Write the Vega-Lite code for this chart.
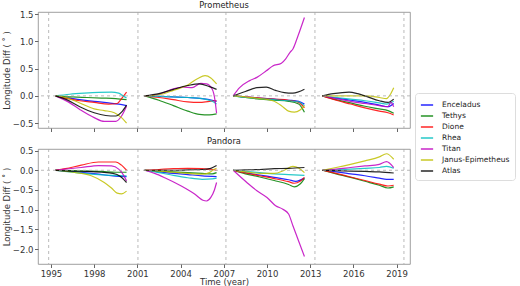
{
"$schema":"https://vega.github.io/schema/vega-lite/v6.json",
"padding":{"left":1,"top":0,"right":0,"bottom":0},
"datasets":{
"b":[{"t":1994.84},{"t":2001.04},{"t":2007.15},{"t":2013.33},{"t":2019.51}],
"z":[{"v":0}],
"d":[
{"p":1,"m":"Enceladus","s":1,"t":1995.3,"v":0},{"p":1,"m":"Enceladus","s":1,"t":1996,"v":-0.03},{"p":1,"m":"Enceladus","s":1,"t":1997,"v":-0.07},{"p":1,"m":"Enceladus","s":1,"t":1998,"v":-0.1},{"p":1,"m":"Enceladus","s":1,"t":1999,"v":-0.13},{"p":1,"m":"Enceladus","s":1,"t":1999.7,"v":-0.15},{"p":1,"m":"Enceladus","s":1,"t":2000.25,"v":-0.18},
{"p":1,"m":"Tethys","s":1,"t":1995.3,"v":0},{"p":1,"m":"Tethys","s":1,"t":1996.5,"v":-0.02},{"p":1,"m":"Tethys","s":1,"t":1997.5,"v":-0.03},{"p":1,"m":"Tethys","s":1,"t":1998.5,"v":-0.04},{"p":1,"m":"Tethys","s":1,"t":1999.5,"v":-0.05},{"p":1,"m":"Tethys","s":1,"t":2000.25,"v":-0.07},
{"p":1,"m":"Dione","s":1,"t":1995.3,"v":0},{"p":1,"m":"Dione","s":1,"t":1996,"v":-0.04},{"p":1,"m":"Dione","s":1,"t":1997,"v":-0.09},{"p":1,"m":"Dione","s":1,"t":1998,"v":-0.12},{"p":1,"m":"Dione","s":1,"t":1999,"v":-0.15},{"p":1,"m":"Dione","s":1,"t":1999.6,"v":-0.14},{"p":1,"m":"Dione","s":1,"t":1999.9,"v":-0.05},{"p":1,"m":"Dione","s":1,"t":2000.25,"v":0.07},
{"p":1,"m":"Rhea","s":1,"t":1995.3,"v":0},{"p":1,"m":"Rhea","s":1,"t":1996.3,"v":0.03},{"p":1,"m":"Rhea","s":1,"t":1997.3,"v":0.05},{"p":1,"m":"Rhea","s":1,"t":1998.3,"v":0.065},{"p":1,"m":"Rhea","s":1,"t":1999.2,"v":0.07},{"p":1,"m":"Rhea","s":1,"t":1999.7,"v":0.05},{"p":1,"m":"Rhea","s":1,"t":2000,"v":0.0},{"p":1,"m":"Rhea","s":1,"t":2000.25,"v":-0.04},
{"p":1,"m":"Titan","s":1,"t":1995.3,"v":0},{"p":1,"m":"Titan","s":1,"t":1996.2,"v":-0.11},{"p":1,"m":"Titan","s":1,"t":1997,"v":-0.25},{"p":1,"m":"Titan","s":1,"t":1998,"v":-0.4},{"p":1,"m":"Titan","s":1,"t":1998.7,"v":-0.47},{"p":1,"m":"Titan","s":1,"t":1999.5,"v":-0.47},{"p":1,"m":"Titan","s":1,"t":1999.9,"v":-0.37},{"p":1,"m":"Titan","s":1,"t":2000.25,"v":-0.19},
{"p":1,"m":"Janus-Epimetheus","s":1,"t":1995.3,"v":0},{"p":1,"m":"Janus-Epimetheus","s":1,"t":1996,"v":-0.03},{"p":1,"m":"Janus-Epimetheus","s":1,"t":1997,"v":-0.13},{"p":1,"m":"Janus-Epimetheus","s":1,"t":1998,"v":-0.24},{"p":1,"m":"Janus-Epimetheus","s":1,"t":1998.7,"v":-0.27},{"p":1,"m":"Janus-Epimetheus","s":1,"t":1999.4,"v":-0.31},{"p":1,"m":"Janus-Epimetheus","s":1,"t":1999.9,"v":-0.4},{"p":1,"m":"Janus-Epimetheus","s":1,"t":2000.25,"v":-0.5},
{"p":1,"m":"Atlas","s":1,"t":1995.3,"v":0},{"p":1,"m":"Atlas","s":1,"t":1996,"v":-0.06},{"p":1,"m":"Atlas","s":1,"t":1997,"v":-0.2},{"p":1,"m":"Atlas","s":1,"t":1998,"v":-0.31},{"p":1,"m":"Atlas","s":1,"t":1998.8,"v":-0.36},{"p":1,"m":"Atlas","s":1,"t":1999.5,"v":-0.37},{"p":1,"m":"Atlas","s":1,"t":1999.9,"v":-0.3},{"p":1,"m":"Atlas","s":1,"t":2000.25,"v":-0.17},

{"p":1,"m":"Enceladus","s":2,"t":2001.5,"v":0},{"p":1,"m":"Enceladus","s":2,"t":2002.5,"v":-0.01},{"p":1,"m":"Enceladus","s":2,"t":2003.5,"v":-0.02},{"p":1,"m":"Enceladus","s":2,"t":2004.5,"v":-0.03},{"p":1,"m":"Enceladus","s":2,"t":2005.5,"v":-0.05},{"p":1,"m":"Enceladus","s":2,"t":2006.2,"v":-0.08},{"p":1,"m":"Enceladus","s":2,"t":2006.5,"v":-0.1},
{"p":1,"m":"Tethys","s":2,"t":2001.5,"v":0},{"p":1,"m":"Tethys","s":2,"t":2002.5,"v":-0.08},{"p":1,"m":"Tethys","s":2,"t":2003.5,"v":-0.18},{"p":1,"m":"Tethys","s":2,"t":2004.5,"v":-0.28},{"p":1,"m":"Tethys","s":2,"t":2005.3,"v":-0.34},{"p":1,"m":"Tethys","s":2,"t":2006,"v":-0.35},{"p":1,"m":"Tethys","s":2,"t":2006.5,"v":-0.33},
{"p":1,"m":"Dione","s":2,"t":2001.5,"v":0},{"p":1,"m":"Dione","s":2,"t":2002.5,"v":-0.03},{"p":1,"m":"Dione","s":2,"t":2003.5,"v":-0.07},{"p":1,"m":"Dione","s":2,"t":2004.5,"v":-0.11},{"p":1,"m":"Dione","s":2,"t":2005.3,"v":-0.12},{"p":1,"m":"Dione","s":2,"t":2006,"v":-0.1},{"p":1,"m":"Dione","s":2,"t":2006.5,"v":-0.09},
{"p":1,"m":"Rhea","s":2,"t":2001.5,"v":0},{"p":1,"m":"Rhea","s":2,"t":2002.5,"v":-0.01},{"p":1,"m":"Rhea","s":2,"t":2003.5,"v":-0.02},{"p":1,"m":"Rhea","s":2,"t":2004.5,"v":-0.03},{"p":1,"m":"Rhea","s":2,"t":2005.5,"v":-0.05},{"p":1,"m":"Rhea","s":2,"t":2006.2,"v":-0.1},{"p":1,"m":"Rhea","s":2,"t":2006.5,"v":-0.15},
{"p":1,"m":"Titan","s":2,"t":2001.5,"v":0},{"p":1,"m":"Titan","s":2,"t":2002.5,"v":0.03},{"p":1,"m":"Titan","s":2,"t":2003.5,"v":0.13},{"p":1,"m":"Titan","s":2,"t":2004.2,"v":0.16},{"p":1,"m":"Titan","s":2,"t":2004.8,"v":0.15},{"p":1,"m":"Titan","s":2,"t":2005.4,"v":0.23},{"p":1,"m":"Titan","s":2,"t":2005.8,"v":0.22},{"p":1,"m":"Titan","s":2,"t":2006.2,"v":0.12},{"p":1,"m":"Titan","s":2,"t":2006.4,"v":-0.1},{"p":1,"m":"Titan","s":2,"t":2006.5,"v":-0.32},
{"p":1,"m":"Janus-Epimetheus","s":2,"t":2001.5,"v":0},{"p":1,"m":"Janus-Epimetheus","s":2,"t":2002.5,"v":0.02},{"p":1,"m":"Janus-Epimetheus","s":2,"t":2003.5,"v":0.1},{"p":1,"m":"Janus-Epimetheus","s":2,"t":2004.5,"v":0.2},{"p":1,"m":"Janus-Epimetheus","s":2,"t":2005.2,"v":0.32},{"p":1,"m":"Janus-Epimetheus","s":2,"t":2005.7,"v":0.37},{"p":1,"m":"Janus-Epimetheus","s":2,"t":2006.1,"v":0.33},{"p":1,"m":"Janus-Epimetheus","s":2,"t":2006.5,"v":0.22},
{"p":1,"m":"Atlas","s":2,"t":2001.5,"v":0},{"p":1,"m":"Atlas","s":2,"t":2002.5,"v":0.04},{"p":1,"m":"Atlas","s":2,"t":2003.5,"v":0.12},{"p":1,"m":"Atlas","s":2,"t":2004.5,"v":0.19},{"p":1,"m":"Atlas","s":2,"t":2005.3,"v":0.22},{"p":1,"m":"Atlas","s":2,"t":2006,"v":0.17},{"p":1,"m":"Atlas","s":2,"t":2006.5,"v":0.12},

{"p":1,"m":"Enceladus","s":3,"t":2007.65,"v":0},{"p":1,"m":"Enceladus","s":3,"t":2008.5,"v":-0.02},{"p":1,"m":"Enceladus","s":3,"t":2009.5,"v":-0.04},{"p":1,"m":"Enceladus","s":3,"t":2010.5,"v":-0.06},{"p":1,"m":"Enceladus","s":3,"t":2011.5,"v":-0.08},{"p":1,"m":"Enceladus","s":3,"t":2012.2,"v":-0.1},{"p":1,"m":"Enceladus","s":3,"t":2012.6,"v":-0.15},
{"p":1,"m":"Tethys","s":3,"t":2007.65,"v":0},{"p":1,"m":"Tethys","s":3,"t":2008.5,"v":-0.03},{"p":1,"m":"Tethys","s":3,"t":2009.5,"v":-0.06},{"p":1,"m":"Tethys","s":3,"t":2010.5,"v":-0.08},{"p":1,"m":"Tethys","s":3,"t":2011.5,"v":-0.1},{"p":1,"m":"Tethys","s":3,"t":2012.2,"v":-0.15},{"p":1,"m":"Tethys","s":3,"t":2012.6,"v":-0.3},
{"p":1,"m":"Dione","s":3,"t":2007.65,"v":0},{"p":1,"m":"Dione","s":3,"t":2008.5,"v":-0.02},{"p":1,"m":"Dione","s":3,"t":2009.5,"v":-0.04},{"p":1,"m":"Dione","s":3,"t":2010.5,"v":-0.06},{"p":1,"m":"Dione","s":3,"t":2011.5,"v":-0.08},{"p":1,"m":"Dione","s":3,"t":2012.2,"v":-0.12},{"p":1,"m":"Dione","s":3,"t":2012.6,"v":-0.22},
{"p":1,"m":"Rhea","s":3,"t":2007.65,"v":0},{"p":1,"m":"Rhea","s":3,"t":2008.5,"v":-0.03},{"p":1,"m":"Rhea","s":3,"t":2009.5,"v":-0.05},{"p":1,"m":"Rhea","s":3,"t":2010.5,"v":-0.07},{"p":1,"m":"Rhea","s":3,"t":2011.5,"v":-0.09},{"p":1,"m":"Rhea","s":3,"t":2012.2,"v":-0.11},{"p":1,"m":"Rhea","s":3,"t":2012.6,"v":-0.18},
{"p":1,"m":"Titan","s":3,"t":2007.65,"v":0},{"p":1,"m":"Titan","s":3,"t":2008.1,"v":0.15},{"p":1,"m":"Titan","s":3,"t":2008.8,"v":0.28},{"p":1,"m":"Titan","s":3,"t":2009.3,"v":0.34},{"p":1,"m":"Titan","s":3,"t":2009.95,"v":0.46},{"p":1,"m":"Titan","s":3,"t":2010.4,"v":0.55},{"p":1,"m":"Titan","s":3,"t":2011,"v":0.6},{"p":1,"m":"Titan","s":3,"t":2011.3,"v":0.68},{"p":1,"m":"Titan","s":3,"t":2011.6,"v":0.8},{"p":1,"m":"Titan","s":3,"t":2011.8,"v":0.86},{"p":1,"m":"Titan","s":3,"t":2012.15,"v":1.1},{"p":1,"m":"Titan","s":3,"t":2012.6,"v":1.44},
{"p":1,"m":"Janus-Epimetheus","s":3,"t":2007.65,"v":0},{"p":1,"m":"Janus-Epimetheus","s":3,"t":2008.5,"v":-0.02},{"p":1,"m":"Janus-Epimetheus","s":3,"t":2009.5,"v":-0.05},{"p":1,"m":"Janus-Epimetheus","s":3,"t":2010.4,"v":-0.09},{"p":1,"m":"Janus-Epimetheus","s":3,"t":2011,"v":-0.18},{"p":1,"m":"Janus-Epimetheus","s":3,"t":2011.5,"v":-0.28},{"p":1,"m":"Janus-Epimetheus","s":3,"t":2011.9,"v":-0.3},{"p":1,"m":"Janus-Epimetheus","s":3,"t":2012.3,"v":-0.26},{"p":1,"m":"Janus-Epimetheus","s":3,"t":2012.6,"v":-0.18},
{"p":1,"m":"Atlas","s":3,"t":2007.65,"v":0},{"p":1,"m":"Atlas","s":3,"t":2008.5,"v":0.08},{"p":1,"m":"Atlas","s":3,"t":2009.3,"v":0.15},{"p":1,"m":"Atlas","s":3,"t":2009.95,"v":0.16},{"p":1,"m":"Atlas","s":3,"t":2010.6,"v":0.1},{"p":1,"m":"Atlas","s":3,"t":2011.2,"v":0.06},{"p":1,"m":"Atlas","s":3,"t":2011.8,"v":0.05},{"p":1,"m":"Atlas","s":3,"t":2012.6,"v":0.12},

{"p":1,"m":"Enceladus","s":4,"t":2013.85,"v":0},{"p":1,"m":"Enceladus","s":4,"t":2014.8,"v":-0.04},{"p":1,"m":"Enceladus","s":4,"t":2015.8,"v":-0.08},{"p":1,"m":"Enceladus","s":4,"t":2016.8,"v":-0.12},{"p":1,"m":"Enceladus","s":4,"t":2017.8,"v":-0.17},{"p":1,"m":"Enceladus","s":4,"t":2018.4,"v":-0.2},{"p":1,"m":"Enceladus","s":4,"t":2018.8,"v":-0.14},
{"p":1,"m":"Tethys","s":4,"t":2013.85,"v":0},{"p":1,"m":"Tethys","s":4,"t":2014.8,"v":-0.07},{"p":1,"m":"Tethys","s":4,"t":2015.8,"v":-0.13},{"p":1,"m":"Tethys","s":4,"t":2016.8,"v":-0.19},{"p":1,"m":"Tethys","s":4,"t":2017.8,"v":-0.24},{"p":1,"m":"Tethys","s":4,"t":2018.4,"v":-0.27},{"p":1,"m":"Tethys","s":4,"t":2018.8,"v":-0.32},
{"p":1,"m":"Dione","s":4,"t":2013.85,"v":0},{"p":1,"m":"Dione","s":4,"t":2014.8,"v":-0.08},{"p":1,"m":"Dione","s":4,"t":2015.8,"v":-0.15},{"p":1,"m":"Dione","s":4,"t":2016.8,"v":-0.22},{"p":1,"m":"Dione","s":4,"t":2017.8,"v":-0.28},{"p":1,"m":"Dione","s":4,"t":2018.4,"v":-0.31},{"p":1,"m":"Dione","s":4,"t":2018.8,"v":-0.35},
{"p":1,"m":"Rhea","s":4,"t":2013.85,"v":0},{"p":1,"m":"Rhea","s":4,"t":2014.8,"v":-0.03},{"p":1,"m":"Rhea","s":4,"t":2015.8,"v":-0.06},{"p":1,"m":"Rhea","s":4,"t":2016.8,"v":-0.09},{"p":1,"m":"Rhea","s":4,"t":2017.8,"v":-0.13},{"p":1,"m":"Rhea","s":4,"t":2018.3,"v":-0.15},{"p":1,"m":"Rhea","s":4,"t":2018.8,"v":-0.1},
{"p":1,"m":"Titan","s":4,"t":2013.85,"v":0},{"p":1,"m":"Titan","s":4,"t":2014.8,"v":-0.05},{"p":1,"m":"Titan","s":4,"t":2015.8,"v":-0.1},{"p":1,"m":"Titan","s":4,"t":2016.8,"v":-0.14},{"p":1,"m":"Titan","s":4,"t":2017.8,"v":-0.18},{"p":1,"m":"Titan","s":4,"t":2018.4,"v":-0.2},{"p":1,"m":"Titan","s":4,"t":2018.6,"v":-0.12},{"p":1,"m":"Titan","s":4,"t":2018.8,"v":-0.2},
{"p":1,"m":"Janus-Epimetheus","s":4,"t":2013.85,"v":0},{"p":1,"m":"Janus-Epimetheus","s":4,"t":2014.8,"v":0.0},{"p":1,"m":"Janus-Epimetheus","s":4,"t":2015.8,"v":0.0},{"p":1,"m":"Janus-Epimetheus","s":4,"t":2016.9,"v":0.0},{"p":1,"m":"Janus-Epimetheus","s":4,"t":2017.8,"v":-0.03},{"p":1,"m":"Janus-Epimetheus","s":4,"t":2018.3,"v":-0.05},{"p":1,"m":"Janus-Epimetheus","s":4,"t":2018.55,"v":0.02},{"p":1,"m":"Janus-Epimetheus","s":4,"t":2018.8,"v":0.15},
{"p":1,"m":"Atlas","s":4,"t":2013.85,"v":0},{"p":1,"m":"Atlas","s":4,"t":2014.6,"v":0.04},{"p":1,"m":"Atlas","s":4,"t":2015.7,"v":0.07},{"p":1,"m":"Atlas","s":4,"t":2016.3,"v":0.04},{"p":1,"m":"Atlas","s":4,"t":2016.9,"v":-0.01},{"p":1,"m":"Atlas","s":4,"t":2017.8,"v":-0.09},{"p":1,"m":"Atlas","s":4,"t":2018.4,"v":-0.12},{"p":1,"m":"Atlas","s":4,"t":2018.8,"v":-0.06},

{"p":2,"m":"Enceladus","s":1,"t":1995.3,"v":0},{"p":2,"m":"Enceladus","s":1,"t":1996.3,"v":-0.02},{"p":2,"m":"Enceladus","s":1,"t":1997.3,"v":-0.06},{"p":2,"m":"Enceladus","s":1,"t":1998.3,"v":-0.1},{"p":2,"m":"Enceladus","s":1,"t":1999.3,"v":-0.14},{"p":2,"m":"Enceladus","s":1,"t":2000.25,"v":-0.16},
{"p":2,"m":"Tethys","s":1,"t":1995.3,"v":0},{"p":2,"m":"Tethys","s":1,"t":1996.5,"v":-0.01},{"p":2,"m":"Tethys","s":1,"t":1997.5,"v":-0.02},{"p":2,"m":"Tethys","s":1,"t":1998.5,"v":-0.03},{"p":2,"m":"Tethys","s":1,"t":1999.5,"v":-0.05},{"p":2,"m":"Tethys","s":1,"t":2000.25,"v":-0.05},
{"p":2,"m":"Dione","s":1,"t":1995.3,"v":0},{"p":2,"m":"Dione","s":1,"t":1996,"v":0.04},{"p":2,"m":"Dione","s":1,"t":1997.1,"v":0.13},{"p":2,"m":"Dione","s":1,"t":1998.3,"v":0.21},{"p":2,"m":"Dione","s":1,"t":1999.5,"v":0.21},{"p":2,"m":"Dione","s":1,"t":1999.9,"v":0.13},{"p":2,"m":"Dione","s":1,"t":2000.25,"v":0.0},
{"p":2,"m":"Rhea","s":1,"t":1995.3,"v":0},{"p":2,"m":"Rhea","s":1,"t":1996.3,"v":-0.04},{"p":2,"m":"Rhea","s":1,"t":1997.3,"v":-0.08},{"p":2,"m":"Rhea","s":1,"t":1998.3,"v":-0.11},{"p":2,"m":"Rhea","s":1,"t":1999.3,"v":-0.13},{"p":2,"m":"Rhea","s":1,"t":2000.25,"v":-0.14},
{"p":2,"m":"Titan","s":1,"t":1995.3,"v":0},{"p":2,"m":"Titan","s":1,"t":1996,"v":0.03},{"p":2,"m":"Titan","s":1,"t":1997.1,"v":0.07},{"p":2,"m":"Titan","s":1,"t":1998.3,"v":0.12},{"p":2,"m":"Titan","s":1,"t":1999.2,"v":0.11},{"p":2,"m":"Titan","s":1,"t":1999.7,"v":0.03},{"p":2,"m":"Titan","s":1,"t":1999.9,"v":-0.05},{"p":2,"m":"Titan","s":1,"t":2000.25,"v":-0.27},
{"p":2,"m":"Janus-Epimetheus","s":1,"t":1995.3,"v":0},{"p":2,"m":"Janus-Epimetheus","s":1,"t":1996.5,"v":-0.05},{"p":2,"m":"Janus-Epimetheus","s":1,"t":1997.8,"v":-0.14},{"p":2,"m":"Janus-Epimetheus","s":1,"t":1998.7,"v":-0.31},{"p":2,"m":"Janus-Epimetheus","s":1,"t":1999.2,"v":-0.45},{"p":2,"m":"Janus-Epimetheus","s":1,"t":1999.6,"v":-0.58},{"p":2,"m":"Janus-Epimetheus","s":1,"t":1999.9,"v":-0.6},{"p":2,"m":"Janus-Epimetheus","s":1,"t":2000.25,"v":-0.53},
{"p":2,"m":"Atlas","s":1,"t":1995.3,"v":0},{"p":2,"m":"Atlas","s":1,"t":1996.5,"v":-0.02},{"p":2,"m":"Atlas","s":1,"t":1997.5,"v":-0.03},{"p":2,"m":"Atlas","s":1,"t":1998.5,"v":-0.05},{"p":2,"m":"Atlas","s":1,"t":1999.3,"v":-0.08},{"p":2,"m":"Atlas","s":1,"t":1999.8,"v":-0.15},{"p":2,"m":"Atlas","s":1,"t":2000.25,"v":-0.31},

{"p":2,"m":"Enceladus","s":2,"t":2001.5,"v":0},{"p":2,"m":"Enceladus","s":2,"t":2002.5,"v":-0.04},{"p":2,"m":"Enceladus","s":2,"t":2003.5,"v":-0.08},{"p":2,"m":"Enceladus","s":2,"t":2004.5,"v":-0.11},{"p":2,"m":"Enceladus","s":2,"t":2005.5,"v":-0.14},{"p":2,"m":"Enceladus","s":2,"t":2006.5,"v":-0.16},
{"p":2,"m":"Tethys","s":2,"t":2001.5,"v":0},{"p":2,"m":"Tethys","s":2,"t":2002.5,"v":-0.02},{"p":2,"m":"Tethys","s":2,"t":2003.5,"v":-0.04},{"p":2,"m":"Tethys","s":2,"t":2004.5,"v":-0.06},{"p":2,"m":"Tethys","s":2,"t":2005.5,"v":-0.08},{"p":2,"m":"Tethys","s":2,"t":2006.2,"v":-0.09},{"p":2,"m":"Tethys","s":2,"t":2006.5,"v":-0.06},
{"p":2,"m":"Dione","s":2,"t":2001.5,"v":0},{"p":2,"m":"Dione","s":2,"t":2002.5,"v":0.02},{"p":2,"m":"Dione","s":2,"t":2003.5,"v":0.04},{"p":2,"m":"Dione","s":2,"t":2004.5,"v":0.05},{"p":2,"m":"Dione","s":2,"t":2005.5,"v":0.04},{"p":2,"m":"Dione","s":2,"t":2006.2,"v":0.02},{"p":2,"m":"Dione","s":2,"t":2006.5,"v":0.0},
{"p":2,"m":"Rhea","s":2,"t":2001.5,"v":0},{"p":2,"m":"Rhea","s":2,"t":2002.5,"v":-0.06},{"p":2,"m":"Rhea","s":2,"t":2003.5,"v":-0.13},{"p":2,"m":"Rhea","s":2,"t":2004.5,"v":-0.19},{"p":2,"m":"Rhea","s":2,"t":2005.5,"v":-0.23},{"p":2,"m":"Rhea","s":2,"t":2006.2,"v":-0.22},{"p":2,"m":"Rhea","s":2,"t":2006.5,"v":-0.2},
{"p":2,"m":"Titan","s":2,"t":2001.5,"v":0},{"p":2,"m":"Titan","s":2,"t":2002.2,"v":-0.08},{"p":2,"m":"Titan","s":2,"t":2002.9,"v":-0.19},{"p":2,"m":"Titan","s":2,"t":2004.05,"v":-0.4},{"p":2,"m":"Titan","s":2,"t":2005,"v":-0.61},{"p":2,"m":"Titan","s":2,"t":2005.55,"v":-0.76},{"p":2,"m":"Titan","s":2,"t":2005.8,"v":-0.78},{"p":2,"m":"Titan","s":2,"t":2006.1,"v":-0.69},{"p":2,"m":"Titan","s":2,"t":2006.35,"v":-0.5},{"p":2,"m":"Titan","s":2,"t":2006.5,"v":-0.31},
{"p":2,"m":"Janus-Epimetheus","s":2,"t":2001.5,"v":0},{"p":2,"m":"Janus-Epimetheus","s":2,"t":2002.5,"v":-0.02},{"p":2,"m":"Janus-Epimetheus","s":2,"t":2003.5,"v":-0.05},{"p":2,"m":"Janus-Epimetheus","s":2,"t":2004.5,"v":-0.08},{"p":2,"m":"Janus-Epimetheus","s":2,"t":2005.5,"v":-0.1},{"p":2,"m":"Janus-Epimetheus","s":2,"t":2006,"v":-0.06},{"p":2,"m":"Janus-Epimetheus","s":2,"t":2006.3,"v":0.02},{"p":2,"m":"Janus-Epimetheus","s":2,"t":2006.5,"v":0.05},
{"p":2,"m":"Atlas","s":2,"t":2001.5,"v":0},{"p":2,"m":"Atlas","s":2,"t":2002.5,"v":0.0},{"p":2,"m":"Atlas","s":2,"t":2003.5,"v":0.0},{"p":2,"m":"Atlas","s":2,"t":2004.5,"v":0.01},{"p":2,"m":"Atlas","s":2,"t":2005.5,"v":0.02},{"p":2,"m":"Atlas","s":2,"t":2006.1,"v":0.05},{"p":2,"m":"Atlas","s":2,"t":2006.5,"v":0.12},

{"p":2,"m":"Enceladus","s":3,"t":2007.65,"v":0},{"p":2,"m":"Enceladus","s":3,"t":2008.5,"v":-0.06},{"p":2,"m":"Enceladus","s":3,"t":2009.5,"v":-0.12},{"p":2,"m":"Enceladus","s":3,"t":2010.5,"v":-0.18},{"p":2,"m":"Enceladus","s":3,"t":2011.5,"v":-0.24},{"p":2,"m":"Enceladus","s":3,"t":2012,"v":-0.28},{"p":2,"m":"Enceladus","s":3,"t":2012.6,"v":-0.2},
{"p":2,"m":"Tethys","s":3,"t":2007.65,"v":0},{"p":2,"m":"Tethys","s":3,"t":2008.5,"v":-0.09},{"p":2,"m":"Tethys","s":3,"t":2009.5,"v":-0.17},{"p":2,"m":"Tethys","s":3,"t":2010.5,"v":-0.26},{"p":2,"m":"Tethys","s":3,"t":2011.5,"v":-0.36},{"p":2,"m":"Tethys","s":3,"t":2011.9,"v":-0.42},{"p":2,"m":"Tethys","s":3,"t":2012.3,"v":-0.35},{"p":2,"m":"Tethys","s":3,"t":2012.6,"v":-0.21},
{"p":2,"m":"Dione","s":3,"t":2007.65,"v":0},{"p":2,"m":"Dione","s":3,"t":2008.5,"v":-0.07},{"p":2,"m":"Dione","s":3,"t":2009.5,"v":-0.14},{"p":2,"m":"Dione","s":3,"t":2010.5,"v":-0.21},{"p":2,"m":"Dione","s":3,"t":2011.5,"v":-0.29},{"p":2,"m":"Dione","s":3,"t":2011.9,"v":-0.33},{"p":2,"m":"Dione","s":3,"t":2012.3,"v":-0.28},{"p":2,"m":"Dione","s":3,"t":2012.6,"v":-0.18},
{"p":2,"m":"Rhea","s":3,"t":2007.65,"v":0},{"p":2,"m":"Rhea","s":3,"t":2008.5,"v":-0.03},{"p":2,"m":"Rhea","s":3,"t":2009.5,"v":-0.06},{"p":2,"m":"Rhea","s":3,"t":2010.5,"v":-0.09},{"p":2,"m":"Rhea","s":3,"t":2011.5,"v":-0.11},{"p":2,"m":"Rhea","s":3,"t":2012.6,"v":-0.13},
{"p":2,"m":"Titan","s":3,"t":2007.65,"v":0},{"p":2,"m":"Titan","s":3,"t":2008.6,"v":-0.31},{"p":2,"m":"Titan","s":3,"t":2009.3,"v":-0.52},{"p":2,"m":"Titan","s":3,"t":2010,"v":-0.69},{"p":2,"m":"Titan","s":3,"t":2010.6,"v":-0.9},{"p":2,"m":"Titan","s":3,"t":2011.1,"v":-0.99},{"p":2,"m":"Titan","s":3,"t":2011.5,"v":-1.11},{"p":2,"m":"Titan","s":3,"t":2011.8,"v":-1.41},{"p":2,"m":"Titan","s":3,"t":2012.15,"v":-1.75},{"p":2,"m":"Titan","s":3,"t":2012.6,"v":-2.19},
{"p":2,"m":"Janus-Epimetheus","s":3,"t":2007.65,"v":0},{"p":2,"m":"Janus-Epimetheus","s":3,"t":2008.5,"v":-0.04},{"p":2,"m":"Janus-Epimetheus","s":3,"t":2009.5,"v":-0.08},{"p":2,"m":"Janus-Epimetheus","s":3,"t":2010.5,"v":-0.08},{"p":2,"m":"Janus-Epimetheus","s":3,"t":2011.2,"v":0.0},{"p":2,"m":"Janus-Epimetheus","s":3,"t":2011.8,"v":0.1},{"p":2,"m":"Janus-Epimetheus","s":3,"t":2012.2,"v":0.06},{"p":2,"m":"Janus-Epimetheus","s":3,"t":2012.6,"v":-0.06},
{"p":2,"m":"Atlas","s":3,"t":2007.65,"v":0},{"p":2,"m":"Atlas","s":3,"t":2008.5,"v":0.01},{"p":2,"m":"Atlas","s":3,"t":2009.5,"v":0.02},{"p":2,"m":"Atlas","s":3,"t":2010.5,"v":0.04},{"p":2,"m":"Atlas","s":3,"t":2011.5,"v":0.05},{"p":2,"m":"Atlas","s":3,"t":2012.6,"v":0.07},

{"p":2,"m":"Enceladus","s":4,"t":2013.85,"v":0},{"p":2,"m":"Enceladus","s":4,"t":2014.8,"v":-0.04},{"p":2,"m":"Enceladus","s":4,"t":2015.8,"v":-0.09},{"p":2,"m":"Enceladus","s":4,"t":2016.8,"v":-0.14},{"p":2,"m":"Enceladus","s":4,"t":2017.8,"v":-0.2},{"p":2,"m":"Enceladus","s":4,"t":2018.3,"v":-0.23},{"p":2,"m":"Enceladus","s":4,"t":2018.8,"v":-0.23},
{"p":2,"m":"Tethys","s":4,"t":2013.85,"v":0},{"p":2,"m":"Tethys","s":4,"t":2014.8,"v":-0.09},{"p":2,"m":"Tethys","s":4,"t":2015.8,"v":-0.18},{"p":2,"m":"Tethys","s":4,"t":2016.8,"v":-0.28},{"p":2,"m":"Tethys","s":4,"t":2017.8,"v":-0.38},{"p":2,"m":"Tethys","s":4,"t":2018.4,"v":-0.45},{"p":2,"m":"Tethys","s":4,"t":2018.8,"v":-0.42},
{"p":2,"m":"Dione","s":4,"t":2013.85,"v":0},{"p":2,"m":"Dione","s":4,"t":2014.8,"v":-0.08},{"p":2,"m":"Dione","s":4,"t":2015.8,"v":-0.17},{"p":2,"m":"Dione","s":4,"t":2016.8,"v":-0.26},{"p":2,"m":"Dione","s":4,"t":2017.8,"v":-0.35},{"p":2,"m":"Dione","s":4,"t":2018.4,"v":-0.4},{"p":2,"m":"Dione","s":4,"t":2018.8,"v":-0.38},
{"p":2,"m":"Rhea","s":4,"t":2013.85,"v":0},{"p":2,"m":"Rhea","s":4,"t":2014.8,"v":0.01},{"p":2,"m":"Rhea","s":4,"t":2015.8,"v":0.03},{"p":2,"m":"Rhea","s":4,"t":2016.8,"v":0.05},{"p":2,"m":"Rhea","s":4,"t":2017.8,"v":0.07},{"p":2,"m":"Rhea","s":4,"t":2018.3,"v":0.1},{"p":2,"m":"Rhea","s":4,"t":2018.8,"v":0.05},
{"p":2,"m":"Titan","s":4,"t":2013.85,"v":0},{"p":2,"m":"Titan","s":4,"t":2014.8,"v":0.03},{"p":2,"m":"Titan","s":4,"t":2015.8,"v":0.07},{"p":2,"m":"Titan","s":4,"t":2016.8,"v":0.11},{"p":2,"m":"Titan","s":4,"t":2017.8,"v":0.15},{"p":2,"m":"Titan","s":4,"t":2018.3,"v":0.22},{"p":2,"m":"Titan","s":4,"t":2018.8,"v":0.07},
{"p":2,"m":"Janus-Epimetheus","s":4,"t":2013.85,"v":0},{"p":2,"m":"Janus-Epimetheus","s":4,"t":2014.8,"v":0.07},{"p":2,"m":"Janus-Epimetheus","s":4,"t":2015.8,"v":0.15},{"p":2,"m":"Janus-Epimetheus","s":4,"t":2016.8,"v":0.24},{"p":2,"m":"Janus-Epimetheus","s":4,"t":2017.8,"v":0.34},{"p":2,"m":"Janus-Epimetheus","s":4,"t":2018.3,"v":0.42},{"p":2,"m":"Janus-Epimetheus","s":4,"t":2018.8,"v":0.28},
{"p":2,"m":"Atlas","s":4,"t":2013.85,"v":0},{"p":2,"m":"Atlas","s":4,"t":2014.8,"v":-0.01},{"p":2,"m":"Atlas","s":4,"t":2015.8,"v":-0.02},{"p":2,"m":"Atlas","s":4,"t":2016.8,"v":-0.03},{"p":2,"m":"Atlas","s":4,"t":2017.8,"v":-0.04},{"p":2,"m":"Atlas","s":4,"t":2018.8,"v":-0.07}
]},
"spacing":21,
"bounds":"flush",
"vconcat":[
{"width":372,"height":116,
 "title":{"text":"Prometheus"},
 "layer":[
  {"data":{"name":"d"},"transform":[{"filter":"datum.p==1"}],
   "mark":{"type":"line","strokeWidth":1.2,"interpolate":"monotone","opacity":0.85},
   "encoding":{
    "x":{"field":"t","type":"quantitative","scale":{"domain":[1994.1,2019.93],"nice":false,"zero":false},
         "axis":{"values":[1995,1998,2001,2004,2007,2010,2013,2016,2019],"labels":false,"title":null}},
    "y":{"field":"v","type":"quantitative","scale":{"domain":[-0.59,1.54],"nice":false,"zero":false},
         "axis":{"values":[-0.5,0,0.5,1,1.5],"format":".1f","title":"Longitude Diff ( ˚ )"}},
    "color":{"field":"m","type":"nominal",
      "scale":{"domain":["Enceladus","Tethys","Dione","Rhea","Titan","Janus-Epimetheus","Atlas"],
               "range":["#0000ff","#008000","#ff0000","#00bfbf","#bf00bf","#bfbf00","#000000"]},
      "legend":{"title":null,"orient":"none","legendX":377,"legendY":81,"symbolType":"stroke","symbolStrokeWidth":1.5,"symbolSize":150,"symbolOpacity":0.5,
                "labelFontSize":7.5,"rowPadding":0,"padding":5,"labelOffset":8,"strokeColor":"#ddd","fillColor":"white","cornerRadius":3,"labelColor":"#222"}},
    "detail":{"field":"s","type":"nominal"}}},
  {"data":{"name":"b"},"mark":{"type":"rule","strokeDash":[3,3],"color":"#aaa","strokeWidth":0.8},
   "encoding":{"x":{"field":"t","type":"quantitative","scale":{"domain":[1994.1,2019.93],"nice":false,"zero":false},
         "axis":{"values":[1995,1998,2001,2004,2007,2010,2013,2016,2019],"labels":false,"title":null}}}},
  {"data":{"name":"z"},"mark":{"type":"rule","strokeDash":[3,3],"color":"#aaa","strokeWidth":0.8},
   "encoding":{"y":{"field":"v","type":"quantitative","scale":{"domain":[-0.59,1.54],"nice":false,"zero":false},
         "axis":{"values":[-0.5,0,0.5,1,1.5],"format":".1f","title":"Longitude Diff ( ˚ )"}}}}
 ]},
{"width":372,"height":115,
 "title":{"text":"Pandora"},
 "layer":[
  {"data":{"name":"d"},"transform":[{"filter":"datum.p==2"}],
   "mark":{"type":"line","strokeWidth":1.2,"interpolate":"monotone","opacity":0.85},
   "encoding":{
    "x":{"field":"t","type":"quantitative","scale":{"domain":[1994.1,2019.93],"nice":false,"zero":false},
         "axis":{"values":[1995,1998,2001,2004,2007,2010,2013,2016,2019],"format":"d","title":"Time (year)","titlePadding":0}},
    "y":{"field":"v","type":"quantitative","scale":{"domain":[-2.38,0.54],"nice":false,"zero":false},
         "axis":{"values":[-2,-1.5,-1,-0.5,0,0.5],"format":".1f","title":"Longitude Diff ( ˚ )"}},
    "color":{"field":"m","type":"nominal"},
    "detail":{"field":"s","type":"nominal"}}},
  {"data":{"name":"b"},"mark":{"type":"rule","strokeDash":[3,3],"color":"#aaa","strokeWidth":0.8},
   "encoding":{"x":{"field":"t","type":"quantitative","scale":{"domain":[1994.1,2019.93],"nice":false,"zero":false},
         "axis":{"values":[1995,1998,2001,2004,2007,2010,2013,2016,2019],"format":"d","title":"Time (year)","titlePadding":0}}}},
  {"data":{"name":"z"},"mark":{"type":"rule","strokeDash":[3,3],"color":"#aaa","strokeWidth":0.8},
   "encoding":{"y":{"field":"v","type":"quantitative","scale":{"domain":[-2.38,0.54],"nice":false,"zero":false},
         "axis":{"values":[-2,-1.5,-1,-0.5,0,0.5],"format":".1f","title":"Longitude Diff ( ˚ )"}}}}
 ]}
],
"config":{
 "font":"DejaVu Sans",
 "view":{"stroke":"#888","strokeWidth":0.8},
 "axis":{"labelFontSize":8.5,"titleFontSize":8.5,"labelColor":"#333","titleColor":"#333","tickColor":"#666","tickSize":3.5,"domain":false,"grid":false,"titleFontWeight":"normal","labelPadding":1.5,"titlePadding":1,"labelOverlap":false,"labelFlush":false},
 "title":{"fontSize":8.3,"fontWeight":"normal","offset":1,"color":"#222"}
}
}
